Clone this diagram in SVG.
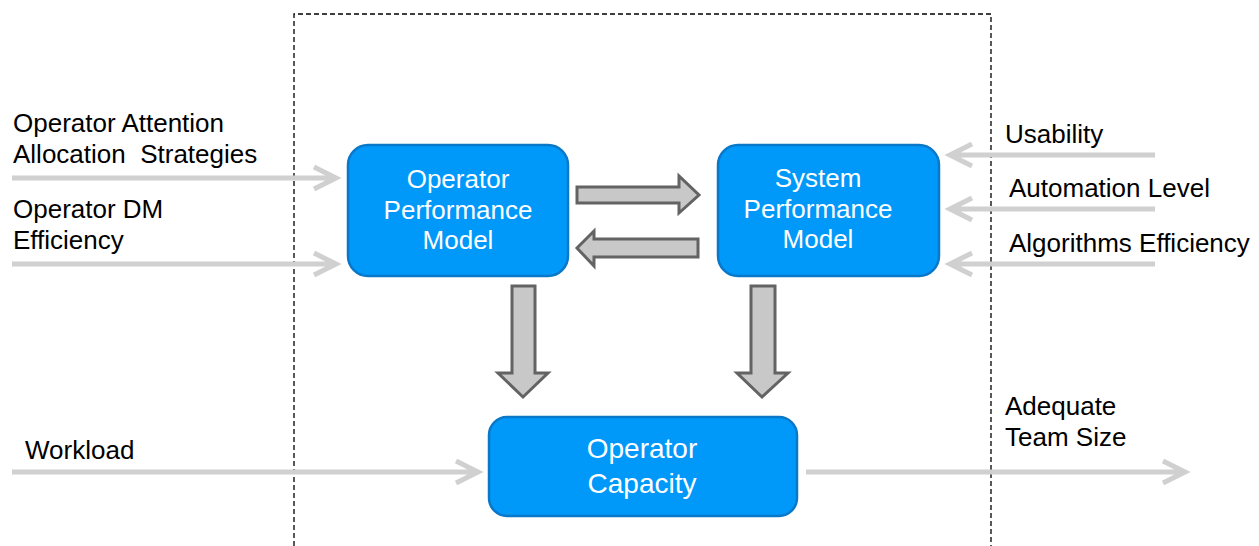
<svg xmlns="http://www.w3.org/2000/svg" width="1259" height="546" viewBox="0 0 1259 546">
  <style>
    .box { fill: #0099fa; stroke: #0a78c8; stroke-width: 2.5; }
    .boxtxt { font-family: "Liberation Sans", Arial, sans-serif; font-size: 26px; fill: #ffffff; text-anchor: middle; }
    .lbl { font-family: "Liberation Sans", Arial, sans-serif; font-size: 26px; fill: #000000; }
    .flow { fill: none; stroke: #d0d0d0; stroke-width: 5; stroke-linecap: butt; stroke-linejoin: miter; }
    .block { fill: #c8c8c8; stroke: #636363; stroke-width: 3; stroke-linejoin: miter; }
    .frame { fill: none; stroke: #000000; stroke-width: 1.3; stroke-dasharray: 5 3; }
  </style>

  <rect width="1259" height="546" fill="#ffffff"/>

  <!-- system boundary (open at the bottom) -->
  <path class="frame" d="M294,546 V14 H991 V546"/>

  <!-- connectors -->
  <g id="connectors">
    <!-- external inputs -->
    <path class="flow" d="M12,178 H336 M314,167 L336,178 L314,189"/>
    <path class="flow" d="M12,264 H336 M314,253 L336,264 L314,275"/>
    <path class="flow" d="M12,472 H478 M456,461 L478,472 L456,483"/>
    <path class="flow" d="M1155,155 H950 M972,144 L950,155 L972,166"/>
    <path class="flow" d="M1155,209 H950 M972,198 L950,209 L972,220"/>
    <path class="flow" d="M1155,264 H950 M972,253 L950,264 L972,275"/>
    <!-- output -->
    <path class="flow" d="M806,472 H1185 M1163,461 L1185,472 L1163,483"/>

    <!-- block arrows between models -->
    <path class="block" d="M577,187 H679 V176 L699,195 L679,213 V203 H577 Z"/>
    <path class="block" d="M698,239 H594 V231 L577,248 L594,266 V257 H698 Z"/>
    <path class="block" d="M512,286 H535 V373 H548 L523,397 L498,373 H512 Z"/>
    <path class="block" d="M751,286 H775 V373 H788 L762,397 L737,373 H751 Z"/>
  </g>

  <g id="operator-performance-model">
    <rect class="box" x="348" y="145" width="220" height="131" rx="20"/>
    <text class="boxtxt" x="458" y="188">Operator</text>
    <text class="boxtxt" x="458" y="219">Performance</text>
    <text class="boxtxt" x="458" y="249">Model</text>
  </g>

  <g id="system-performance-model">
    <rect class="box" x="718" y="145" width="221" height="131" rx="20"/>
    <text class="boxtxt" x="818" y="187">System</text>
    <text class="boxtxt" x="818" y="218">Performance</text>
    <text class="boxtxt" x="818" y="248">Model</text>
  </g>

  <g id="operator-capacity">
    <rect class="box" x="489" y="417" width="308" height="99" rx="18"/>
    <text class="boxtxt" x="642" y="458" style="font-size:28px">Operator</text>
    <text class="boxtxt" x="642" y="493" style="font-size:28px">Capacity</text>
  </g>

  <g id="labels">
    <text class="lbl" x="13" y="132">Operator Attention</text>
    <text class="lbl" x="13" y="163" xml:space="preserve">Allocation  Strategies</text>
    <text class="lbl" x="13" y="218">Operator DM</text>
    <text class="lbl" x="13" y="249">Efficiency</text>
    <text class="lbl" x="25" y="459">Workload</text>
    <text class="lbl" x="1005" y="143">Usability</text>
    <text class="lbl" x="1009" y="197">Automation Level</text>
    <text class="lbl" x="1009" y="252">Algorithms Efficiency</text>
    <text class="lbl" x="1005" y="415">Adequate</text>
    <text class="lbl" x="1005" y="446">Team Size</text>
  </g>
</svg>
